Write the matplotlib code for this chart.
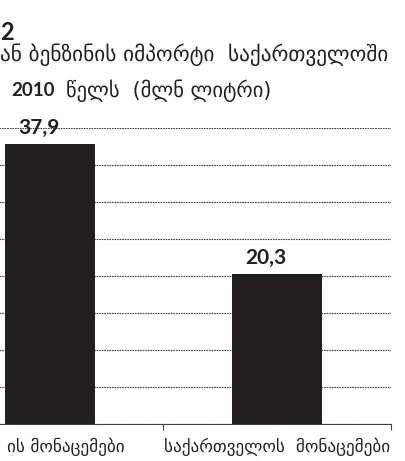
import numpy as np
import matplotlib.pyplot as plt

categories = ['ის მონაცემები', 'საქართველოს  მონაცემები']
values = [37.9, 20.3]
value_labels = ['37,9', '20,3']
yticks = [0, 5, 10, 15, 20, 25, 30, 35, 40]

plt.rcParams['font.family'] = ['DejaVu Sans']

fig = plt.figure(figsize=(4.05, 4.61), dpi=100)
ax = fig.add_axes([-0.1568, 0.0803, 1.121, 0.642])

x = np.arange(len(values))
ax.bar(x, values, width=0.4, color='#231f20', zorder=3)
ax.set_xlim(-0.5, 1.5)
ax.set_ylim(0, 40)
ax.set_yticks(yticks)
ax.grid(axis='y', color='#444444', linestyle=(0, (1.5, 0.8)), linewidth=0.8, zorder=0)
for s in ['top', 'right', 'left']:
    ax.spines[s].set_visible(False)
ax.spines['bottom'].set_color('#444444')
ax.spines['bottom'].set_linestyle((0, (1.5, 0.8)))
ax.spines['bottom'].set_linewidth(0.8)
ax.set_xticks([-0.5, 0.5, 1.5])
ax.set_xticklabels([])
ax.tick_params(axis='x', length=4, color='#444444', width=0.8)
ax.tick_params(axis='y', left=False, labelleft=False)

for xi, v, lab in zip(x, values, value_labels):
    ax.text(xi - 0.05, v + 0.8, lab, ha='center', va='bottom', fontsize=15,
            fontweight='bold', family=['Lato', 'DejaVu Sans'], color='#231f20')

# category labels (left one is cut off by the frame)
fig.text(125 / 405, 1 - 447 / 461, categories[0], ha='right', va='center', fontsize=12.3, color='#231f20')
fig.text(277 / 405, 1 - 447 / 461, categories[1], ha='center', va='center', fontsize=12.3, color='#231f20')

# title (cut off at the left edge)
fig.text(0, 1 - 32 / 461, '2', ha='left', va='center', fontsize=17, fontweight='bold',
         family=['Lato', 'DejaVu Sans'], color='#231f20')
fig.text(0, 1 - 55 / 461, 'ან ბენზინის იმპორტი  საქართველოში', ha='left', va='center',
         fontsize=15.3, color='#231f20')
fig.text(11 / 405, 1 - 90 / 461, '2010', ha='left', va='center', fontsize=13.5,
         fontweight='bold', family=['Lato', 'DejaVu Sans'], color='#231f20')
fig.text(271 / 405, 1 - 91 / 461, 'წელს  (მლნ ლიტრი)', ha='right', va='center',
         fontsize=14.8, color='#231f20')

fig.savefig('out.png', dpi=100)
